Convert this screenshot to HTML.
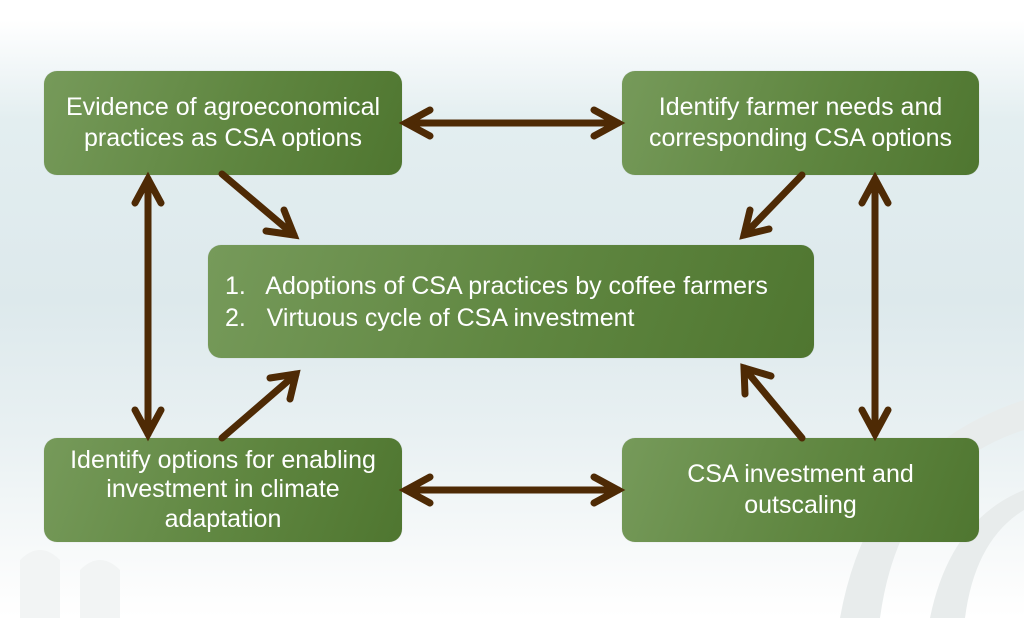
<!DOCTYPE html>
<html><head><style>
body{margin:0;width:1024px;height:618px;overflow:hidden;font-family:"Liberation Sans",sans-serif;
background:linear-gradient(to bottom,#ffffff 0px,#ffffff 20px,#e3eef0 120px,#dde9ec 300px,#e8f0f2 430px,#fbfcfc 580px,#ffffff 618px);position:relative}
.b{position:absolute;border-radius:13px;background:linear-gradient(110deg,#769a5a 0%,#5f8640 55%,#4f7630 100%);color:#fff;font-size:25px;line-height:31px;display:flex;align-items:center;justify-content:center;text-align:center;box-shadow:0 0 1px rgba(0,0,0,.2)}
svg{position:absolute;left:0;top:0}
</style></head><body>
<svg width="1024" height="618">
<path d="M840 618 Q870 450 1024 400 L1024 430 Q900 470 880 618Z" fill="#e8ecec"/>
<path d="M930 618 Q950 520 1024 490 L1024 510 Q975 540 965 618Z" fill="#e8ecec"/>
<path d="M20 618 L20 560 Q40 540 60 560 L60 618Z M80 618 L80 570 Q100 550 120 570 L120 618Z" fill="#f2f4f4"/>
</svg>
<div class="b" style="left:44px;top:71px;width:358px;height:104px">Evidence of agroeconomical<br>practices as CSA options</div>
<div class="b" style="left:622px;top:71px;width:357px;height:104px">Identify farmer needs and<br>corresponding CSA options</div>
<div class="b" style="left:208px;top:245px;width:606px;height:113px;justify-content:flex-start;padding-left:17px;box-sizing:border-box;text-align:left;line-height:32px"><div>1.&nbsp;&nbsp; Adoptions of CSA practices by coffee farmers<br>2.&nbsp;&nbsp; Virtuous cycle of CSA investment</div></div>
<div class="b" style="left:44px;top:438px;width:358px;height:104px;line-height:29.5px">Identify options for enabling<br>investment in climate<br>adaptation</div>
<div class="b" style="left:622px;top:438px;width:357px;height:104px">CSA investment and<br>outscaling</div>
<svg width="1024" height="618" fill="none" stroke="#4e2a05" stroke-width="7" stroke-linecap="round" stroke-linejoin="miter">
<line x1="406" y1="123" x2="618" y2="123"/><path d="M430 110 L406 123 L430 136 M594 110 L618 123 L594 136"/>
<line x1="406" y1="490" x2="618" y2="490"/><path d="M430 477 L406 490 L430 503 M594 477 L618 490 L594 503"/>
<line x1="148" y1="179" x2="148" y2="434"/><path d="M135 203 L148 179 L161 203 M135 410 L148 434 L161 410"/>
<line x1="875" y1="179" x2="875" y2="434"/><path d="M862 203 L875 179 L888 203 M862 410 L875 434 L888 410"/>
<line x1="222" y1="174" x2="294" y2="235"/><path d="M266 231 L294 235 L284 210"/>
<line x1="802" y1="175" x2="744" y2="235"/><path d="M750 210 L744 235 L769 229"/>
<line x1="222" y1="438" x2="296" y2="374"/><path d="M270 378 L296 374 L290 399"/>
<line x1="802" y1="438" x2="744" y2="368"/><path d="M745 394 L744 368 L771 376"/>
</svg>
</body></html>
